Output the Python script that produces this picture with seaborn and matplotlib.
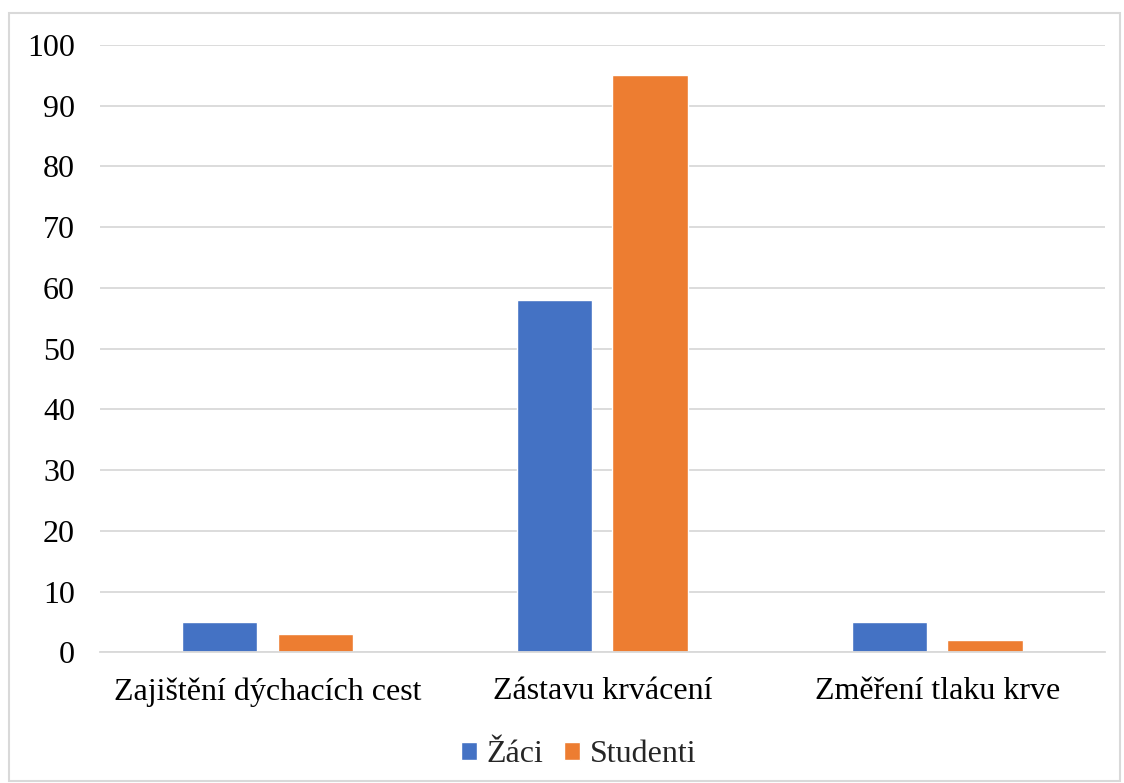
import pandas as pd
import matplotlib.pyplot as plt
import seaborn as sns
from matplotlib.patches import Rectangle

# Data
categories = ['Zajištění dýchacích cest', 'Zástavu krvácení', 'Změření tlaku krve']
zaci = [5, 58, 5]
studenti = [3, 95, 2]
series_names = ['Žáci', 'Studenti']

df = pd.DataFrame({
    'Kategorie': categories * 2,
    'Hodnota': zaci + studenti,
    'Skupina': [series_names[0]] * 3 + [series_names[1]] * 3,
})

sns.set_style('white')
plt.rcParams['font.family'] = ['Liberation Serif', 'DejaVu Serif']

fig = plt.figure(figsize=(11.24, 7.83), dpi=100)
ax = fig.add_axes([0.089, 0.167, 0.894, 0.7755])

sns.barplot(data=df, x='Kategorie', y='Hodnota', hue='Skupina',
            palette=['#4472C4', '#ED7D31'], saturation=1, width=0.57, gap=0.21,
            ax=ax, legend=True)

ax.set_ylim(0, 100)
ax.set_xlim(-0.5, 2.5)
ax.set_yticks(range(0, 101, 10))
ax.yaxis.grid(True, color='#D9D9D9', linewidth=1.3)
ax.set_axisbelow(True)
for s in ['top', 'right', 'left']:
    ax.spines[s].set_visible(False)
ax.spines['bottom'].set_color('#D9D9D9')
ax.spines['bottom'].set_linewidth(1.3)
ax.tick_params(axis='both', length=0, labelsize=23, colors='black')
ax.tick_params(axis='y', pad=18)
ax.tick_params(axis='x', pad=18)
ax.set_xlabel('')
ax.set_ylabel('')

ax.legend(loc='lower center', bbox_to_anchor=(0.476, -0.24), ncol=2, frameon=False,
          fontsize=23, handlelength=0.5, handleheight=0.5, handletextpad=0.3,
          columnspacing=0.65)

# light border around the whole chart
fig.patches.append(Rectangle((0.008, 0.003), 0.988, 0.981, transform=fig.transFigure,
                             fill=False, edgecolor='#D9D9D9', linewidth=1.5))

fig.savefig('out.png', dpi=100)
